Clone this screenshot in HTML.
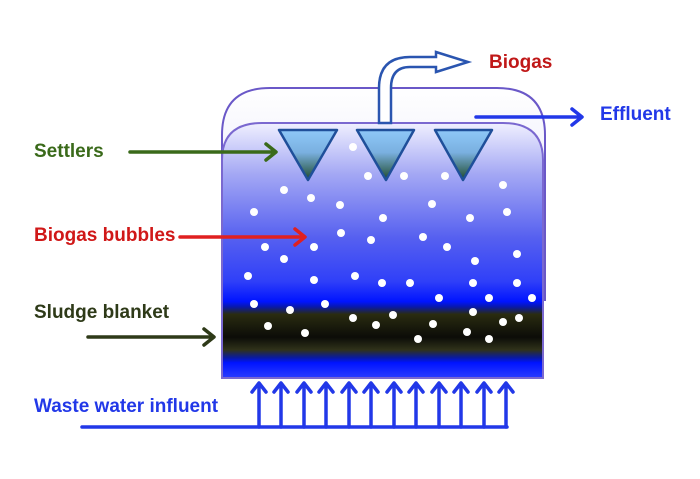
<!DOCTYPE html>
<html><head><meta charset="utf-8"><style>
html,body{margin:0;padding:0;background:#fff;}
svg{display:block;}
text{font-family:"Liberation Sans",sans-serif;font-weight:bold;font-size:19px;}
</style></head><body>
<svg width="700" height="479" viewBox="0 0 700 479" xmlns="http://www.w3.org/2000/svg">
<defs>
<linearGradient id="back" x1="0" y1="0" x2="0" y2="1">
<stop offset="0" stop-color="#ffffff"/><stop offset="1" stop-color="#d8d8f8"/>
</linearGradient>
<linearGradient id="tank" x1="0" y1="123" x2="0" y2="378" gradientUnits="userSpaceOnUse">
<stop offset="0" stop-color="#f0f0ff"/>
<stop offset="0.2" stop-color="#a4a8f4"/>
<stop offset="0.45" stop-color="#5660f0"/>
<stop offset="0.62" stop-color="#3040f8"/>
<stop offset="0.7" stop-color="#0014ff"/>
<stop offset="0.72" stop-color="#0818b0"/>
<stop offset="0.75" stop-color="#2a2c10"/>
<stop offset="0.84" stop-color="#0c0c08"/>
<stop offset="0.89" stop-color="#30321a"/>
<stop offset="0.92" stop-color="#0a1aa0"/>
<stop offset="0.94" stop-color="#0014ff"/>
<stop offset="1" stop-color="#2a3cff"/>
</linearGradient>
<linearGradient id="tri" x1="0" y1="0" x2="0" y2="1">
<stop offset="0" stop-color="#8ec8f8"/><stop offset="0.45" stop-color="#7ab0e0"/><stop offset="1" stop-color="#1e4a2a"/>
</linearGradient>
</defs>
<path d="M222,300 L222,135 Q222,88 270,88 L497,88 Q545,88 545,135 L545,300 Z" fill="url(#back)" stroke="#6a58c8" stroke-width="2"/>
<path d="M222,378 L222,160 Q222,123 262,123 L503,123 Q543,123 543,160 L543,378 Z" fill="url(#tank)" stroke="#7a68d0" stroke-width="2"/>
<path d="M379,123 L379,88 Q379,57 410,57 L436,57 L436,52 L468,62 L436,72 L436,67 L410,67 Q391,67 391,88 L391,123 Z" fill="#fff" stroke="#2a55b0" stroke-width="2.5" stroke-linejoin="miter"/>
<g fill="url(#tri)" stroke="#1f4f9a" stroke-width="2.5" stroke-linejoin="round">
<polygon points="279,130 337,130 308,180"/>
<polygon points="357,130 414,130 386,180"/>
<polygon points="435,130 492,130 463,180"/>
</g>
<g fill="#fff">
<circle cx="353" cy="147" r="4"/><circle cx="368" cy="176" r="4"/><circle cx="404" cy="176" r="4"/><circle cx="445" cy="176" r="4"/><circle cx="503" cy="185" r="4"/>
<circle cx="284" cy="190" r="4"/><circle cx="311" cy="198" r="4"/><circle cx="340" cy="205" r="4"/><circle cx="254" cy="212" r="4"/><circle cx="383" cy="218" r="4"/><circle cx="432" cy="204" r="4"/><circle cx="470" cy="218" r="4"/><circle cx="507" cy="212" r="4"/>
<circle cx="341" cy="233" r="4"/><circle cx="371" cy="240" r="4"/><circle cx="423" cy="237" r="4"/><circle cx="265" cy="247" r="4"/><circle cx="314" cy="247" r="4"/><circle cx="447" cy="247" r="4"/><circle cx="284" cy="259" r="4"/><circle cx="475" cy="261" r="4"/><circle cx="517" cy="254" r="4"/>
<circle cx="248" cy="276" r="4"/><circle cx="314" cy="280" r="4"/><circle cx="355" cy="276" r="4"/><circle cx="382" cy="283" r="4"/><circle cx="410" cy="283" r="4"/><circle cx="473" cy="283" r="4"/><circle cx="517" cy="283" r="4"/>
<circle cx="254" cy="304" r="4"/><circle cx="290" cy="310" r="4"/><circle cx="325" cy="304" r="4"/><circle cx="439" cy="298" r="4"/><circle cx="489" cy="298" r="4"/><circle cx="532" cy="298" r="4"/>
<circle cx="268" cy="326" r="4"/><circle cx="305" cy="333" r="4"/><circle cx="353" cy="318" r="4"/><circle cx="376" cy="325" r="4"/><circle cx="393" cy="315" r="4"/><circle cx="418" cy="339" r="4"/><circle cx="433" cy="324" r="4"/><circle cx="467" cy="332" r="4"/><circle cx="489" cy="339" r="4"/><circle cx="503" cy="322" r="4"/><circle cx="519" cy="318" r="4"/><circle cx="473" cy="312" r="4"/>
</g>
<g stroke="#2238e8" stroke-width="3.5" fill="none" stroke-linecap="round" stroke-linejoin="round">
<polyline points="82,427 507,427"/>
<path d="M259,427V384M252,392L259,383L266,392"/>
<path d="M281,427V384M274,392L281,383L288,392"/>
<path d="M304,427V384M297,392L304,383L311,392"/>
<path d="M326,427V384M319,392L326,383L333,392"/>
<path d="M349,427V384M342,392L349,383L356,392"/>
<path d="M371,427V384M364,392L371,383L378,392"/>
<path d="M394,427V384M387,392L394,383L401,392"/>
<path d="M416,427V384M409,392L416,383L423,392"/>
<path d="M439,427V384M432,392L439,383L446,392"/>
<path d="M461,427V384M454,392L461,383L468,392"/>
<path d="M484,427V384M477,392L484,383L491,392"/>
<path d="M506,427V384M499,392L506,383L513,392"/>
</g>
<g fill="none" stroke-width="3.5" stroke-linecap="round" stroke-linejoin="round">
<path d="M130,152H275M266,144L276,152L266,160" stroke="#3a6a1a"/>
<path d="M180,237H304M295,229L305,237L295,245" stroke="#e02020"/>
<path d="M88,337H213M204,329L214,337L204,345" stroke="#2e3a18"/>
<path d="M476,117H581M572,109L582,117L572,125" stroke="#2238e8"/>
</g>
<text x="34" y="157" fill="#3a6a1a">Settlers</text>
<text x="34" y="241" fill="#d01818">Biogas bubbles</text>
<text x="34" y="318" fill="#2e3a18">Sludge blanket</text>
<text x="34" y="412" fill="#2238e8">Waste water influent</text>
<text x="489" y="68" fill="#c01818">Biogas</text>
<text x="600" y="120" fill="#2238e8">Effluent</text>
</svg>
</body></html>
